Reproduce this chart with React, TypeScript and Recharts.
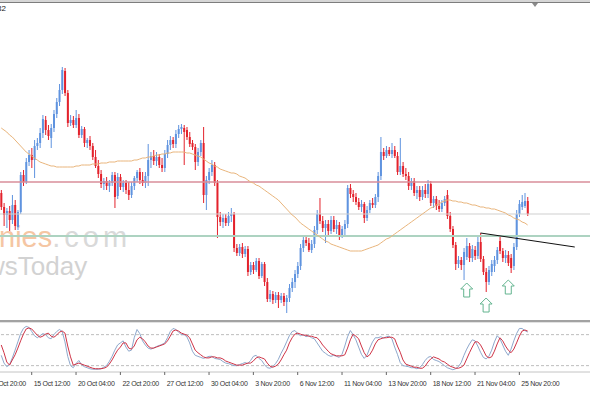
import React from "react";
import {
  ComposedChart,
  Bar,
  Line,
  XAxis,
  YAxis,
  ReferenceLine,
  ReferenceDot,
} from "recharts";

// H4 candles, 12 Oct 20:00 .. 26 Nov 08:00 (prices)
const open = [
  1.0807, 1.0793, 1.0785, 1.0789, 1.078, 1.0795, 1.0773, 1.0788, 1.0825, 1.0818,
  1.0838, 1.0845, 1.084, 1.0854, 1.0857, 1.0867, 1.088, 1.087, 1.0862, 1.0872,
  1.0886, 1.0898, 1.091, 1.0929, 1.0907, 1.0877, 1.088, 1.0875, 1.0882, 1.0865,
  1.0871, 1.0857, 1.086, 1.0854, 1.0843, 1.0834, 1.0826, 1.0816, 1.0819, 1.0814,
  1.0817, 1.0825, 1.0804, 1.0823, 1.0813, 1.0817, 1.081, 1.0805, 1.0814, 1.0822,
  1.0828, 1.082, 1.0817, 1.0824, 1.084, 1.0844, 1.0839, 1.0843, 1.0835, 1.0832,
  1.0846, 1.0855, 1.086, 1.0856, 1.0866, 1.0871, 1.0872, 1.087, 1.0863, 1.0857,
  1.0853, 1.0838, 1.0848, 1.0857, 1.0805, 1.082, 1.0828, 1.0835, 1.0817, 1.0783,
  1.0778, 1.0782, 1.0777, 1.0784, 1.0786, 1.0752, 1.0747, 1.0753, 1.0746, 1.0751,
  1.0728, 1.0735, 1.073, 1.0739, 1.0724, 1.0736, 1.0718, 1.0701, 1.0706, 1.07,
  1.0705, 1.07, 1.0704, 1.0698, 1.0702, 1.0712, 1.0718, 1.0726, 1.0734, 1.0752,
  1.076, 1.0757, 1.075, 1.0756, 1.077, 1.0786, 1.0779, 1.0772, 1.0776, 1.0769,
  1.078, 1.0771, 1.0775, 1.0765, 1.0771, 1.0776, 1.0812, 1.0806, 1.0803, 1.0798,
  1.0793, 1.0796, 1.0782, 1.079, 1.0797, 1.0795, 1.0803, 1.0824, 1.0848, 1.0844,
  1.085, 1.0846, 1.085, 1.0844, 1.0828, 1.0834, 1.0826, 1.0824, 1.0814, 1.0819,
  1.0807, 1.081, 1.0803, 1.081, 1.0806, 1.0816, 1.0797, 1.0801, 1.0794, 1.0791,
  1.0797, 1.0805, 1.0784, 1.0771, 1.0755, 1.0736, 1.074, 1.0735, 1.0743, 1.0754,
  1.0742, 1.075, 1.0744, 1.0758, 1.0741, 1.0728, 1.0718, 1.0728, 1.0734, 1.074,
  1.0759, 1.0749, 1.0742, 1.0745, 1.0742, 1.0734, 1.0753, 1.0786, 1.0793, 1.0794,
  1.0799,
];
const high = [
  1.081, 1.0797, 1.0792, 1.0794, 1.0805, 1.08, 1.079, 1.0828, 1.083, 1.0842,
  1.085, 1.0852, 1.086, 1.0862, 1.0872, 1.0885, 1.0884, 1.0875, 1.0876, 1.089,
  1.0902, 1.0916, 1.0933, 1.0932, 1.091, 1.0885, 1.0884, 1.089, 1.0886, 1.0874,
  1.0873, 1.0862, 1.0864, 1.0857, 1.085, 1.084, 1.083, 1.0822, 1.0823, 1.082,
  1.0828, 1.0828, 1.0827, 1.0826, 1.082, 1.082, 1.0818, 1.0818, 1.0824, 1.083,
  1.0832, 1.0828, 1.0828, 1.0856, 1.0848, 1.085, 1.0848, 1.0846, 1.0842, 1.085,
  1.086, 1.0864, 1.0863, 1.087, 1.0875, 1.0876, 1.0875, 1.0873, 1.0868, 1.086,
  1.0856, 1.0852, 1.086, 1.0873, 1.0824, 1.0832, 1.084, 1.0838, 1.082, 1.0788,
  1.0786, 1.0786, 1.0788, 1.0792, 1.0788, 1.0756, 1.0756, 1.0757, 1.0754, 1.0754,
  1.0738, 1.0738, 1.0742, 1.0742, 1.0738, 1.0738, 1.0722, 1.071, 1.0709, 1.0708,
  1.0708, 1.0707, 1.0707, 1.0705, 1.0716, 1.0722, 1.073, 1.0738, 1.0756, 1.0764,
  1.0764, 1.0762, 1.076, 1.0774, 1.079, 1.0802, 1.0784, 1.078, 1.078, 1.0784,
  1.0784, 1.078, 1.0778, 1.0774, 1.078, 1.0815, 1.0816, 1.081, 1.0807, 1.0802,
  1.08, 1.0798, 1.0794, 1.08, 1.0802, 1.0806, 1.0828, 1.0863, 1.0852, 1.0854,
  1.0853, 1.0857, 1.0854, 1.0848, 1.0862, 1.0838, 1.0832, 1.0828, 1.0822, 1.0822,
  1.0814, 1.0814, 1.0814, 1.0816, 1.082, 1.0819, 1.0804, 1.0804, 1.08, 1.08,
  1.0804, 1.081, 1.0788, 1.0774, 1.0758, 1.0744, 1.0743, 1.0752, 1.0762, 1.0757,
  1.0755, 1.0754, 1.0763, 1.0767, 1.0744, 1.0732, 1.0734, 1.074, 1.0744, 1.0753,
  1.0764, 1.0752, 1.075, 1.0749, 1.0746, 1.0757, 1.079, 1.08, 1.0805, 1.0807,
  1.0803,
];
const low = [
  1.079, 1.0774, 1.0772, 1.0769, 1.0776, 1.077, 1.077, 1.0786, 1.0814, 1.0816,
  1.0834, 1.0832, 1.0822, 1.085, 1.0852, 1.0862, 1.0865, 1.086, 1.0852, 1.0868,
  1.0882, 1.0894, 1.0906, 1.0904, 1.0873, 1.0874, 1.0872, 1.0872, 1.0862, 1.0862,
  1.0853, 1.0852, 1.085, 1.084, 1.0832, 1.0822, 1.0812, 1.081, 1.081, 1.0808,
  1.0814, 1.0792, 1.0801, 1.081, 1.0808, 1.0806, 1.08, 1.0802, 1.081, 1.0818,
  1.0816, 1.0814, 1.0812, 1.0814, 1.0832, 1.0835, 1.0834, 1.0832, 1.0828, 1.0828,
  1.0842, 1.085, 1.0852, 1.0852, 1.0862, 1.0866, 1.0835, 1.086, 1.0853, 1.085,
  1.083, 1.0834, 1.0844, 1.0797, 1.079, 1.0816, 1.0824, 1.0814, 1.0762, 1.0774,
  1.0772, 1.0774, 1.0774, 1.0778, 1.0748, 1.0744, 1.0744, 1.0742, 1.0743, 1.0724,
  1.0725, 1.0726, 1.0728, 1.0721, 1.0722, 1.0714, 1.0698, 1.0698, 1.0696, 1.0697,
  1.0692, 1.0697, 1.0694, 1.0687, 1.0698, 1.0708, 1.0712, 1.0722, 1.073, 1.0748,
  1.0754, 1.0748, 1.0747, 1.0752, 1.0766, 1.0776, 1.0768, 1.0757, 1.0764, 1.0766,
  1.0768, 1.0766, 1.076, 1.0762, 1.0764, 1.0772, 1.0802, 1.0798, 1.0795, 1.079,
  1.0788, 1.0777, 1.0779, 1.0787, 1.0792, 1.0792, 1.0798, 1.082, 1.084, 1.0842,
  1.0844, 1.0842, 1.0842, 1.0825, 1.0825, 1.0823, 1.082, 1.081, 1.081, 1.0804,
  1.0801, 1.0799, 1.08, 1.0802, 1.0802, 1.0794, 1.0792, 1.079, 1.0788, 1.0788,
  1.0794, 1.0781, 1.0768, 1.0752, 1.073, 1.0732, 1.073, 1.072, 1.074, 1.0738,
  1.0738, 1.074, 1.0741, 1.0738, 1.0725, 1.0708, 1.0715, 1.0724, 1.0728, 1.0736,
  1.0746, 1.0738, 1.0737, 1.0734, 1.0727, 1.073, 1.075, 1.0783, 1.079, 1.0792,
  1.0784,
];
const close = [
  1.0793, 1.0785, 1.0789, 1.078, 1.0795, 1.0774, 1.0788, 1.0825, 1.0818, 1.0838,
  1.0845, 1.084, 1.0854, 1.0857, 1.0867, 1.0881, 1.087, 1.0864, 1.0872, 1.0886,
  1.0898, 1.091, 1.093, 1.0907, 1.0877, 1.088, 1.0875, 1.0882, 1.0865, 1.0871,
  1.0857, 1.086, 1.0854, 1.0843, 1.0834, 1.0826, 1.0816, 1.0819, 1.0814, 1.0817,
  1.0825, 1.0803, 1.0823, 1.0813, 1.0817, 1.081, 1.0805, 1.0814, 1.0822, 1.0828,
  1.082, 1.0817, 1.0824, 1.084, 1.0844, 1.0839, 1.0843, 1.0835, 1.0832, 1.0846,
  1.0855, 1.086, 1.0856, 1.0866, 1.0871, 1.0873, 1.0868, 1.0863, 1.0856, 1.0853,
  1.0838, 1.0848, 1.0857, 1.0805, 1.082, 1.0828, 1.0835, 1.0817, 1.0783, 1.0778,
  1.0782, 1.0777, 1.0784, 1.0786, 1.0752, 1.0747, 1.0753, 1.0746, 1.0751, 1.0728,
  1.0735, 1.073, 1.0739, 1.0724, 1.0736, 1.0718, 1.0701, 1.0706, 1.07, 1.0705,
  1.07, 1.0704, 1.0698, 1.0702, 1.0712, 1.0718, 1.0726, 1.0734, 1.0752, 1.076,
  1.0757, 1.075, 1.0756, 1.077, 1.0786, 1.0779, 1.0772, 1.0776, 1.0769, 1.078,
  1.0771, 1.0775, 1.0765, 1.0771, 1.0776, 1.0812, 1.0806, 1.0803, 1.0798, 1.0793,
  1.0796, 1.0782, 1.079, 1.0797, 1.0795, 1.0803, 1.0824, 1.0848, 1.0844, 1.085,
  1.0846, 1.085, 1.0844, 1.0828, 1.0834, 1.0826, 1.0824, 1.0814, 1.0819, 1.0807,
  1.081, 1.0803, 1.081, 1.0806, 1.0816, 1.0797, 1.0801, 1.0794, 1.0791, 1.0797,
  1.0801, 1.0784, 1.0771, 1.0755, 1.0736, 1.074, 1.0735, 1.0748, 1.0754, 1.0742,
  1.0751, 1.0744, 1.0758, 1.0741, 1.0728, 1.0718, 1.073, 1.0736, 1.074, 1.075,
  1.0749, 1.0742, 1.0745, 1.0737, 1.0732, 1.0753, 1.0786, 1.0796, 1.0798, 1.0799,
  1.0786,
];

// moving average (orange)
const ma = [
  1.0872, 1.087, 1.0868, 1.0865, 1.0863, 1.086, 1.0857, 1.0854, 1.0851, 1.0848,
  1.0846, 1.0844, 1.0842, 1.084, 1.0838, 1.0837, 1.0836, 1.0835, 1.0834, 1.0834,
  1.0833, 1.0833, 1.0833, 1.0833, 1.0833, 1.0833, 1.0833, 1.0834, 1.0834, 1.0835,
  1.0835, 1.0835, 1.0835, 1.0836, 1.0836, 1.0836, 1.0837, 1.0837, 1.0837, 1.0838,
  1.0838, 1.0838, 1.0839, 1.0839, 1.0839, 1.0839, 1.0839, 1.0839, 1.084, 1.084,
  1.0841, 1.0842, 1.0842, 1.0843, 1.0843, 1.0844, 1.0845, 1.0845, 1.0846, 1.0846,
  1.0847, 1.0847, 1.0848, 1.0848, 1.0848, 1.0848, 1.0848, 1.0847, 1.0847, 1.0846,
  1.0845, 1.0844, 1.0843, 1.0841, 1.0839, 1.0837, 1.0836, 1.0834, 1.0833, 1.0831,
  1.083, 1.0829, 1.0828, 1.0827, 1.0827, 1.0826, 1.0824, 1.0823, 1.0822, 1.082,
  1.0818, 1.0817, 1.0815, 1.0814, 1.0812, 1.081, 1.0808, 1.0806, 1.0804, 1.0802,
  1.08, 1.0797, 1.0794, 1.0791, 1.0788, 1.0785, 1.0783, 1.078, 1.0777, 1.0775,
  1.0773, 1.0771, 1.0769, 1.0767, 1.0765, 1.0763, 1.0761, 1.0759, 1.0758, 1.0756,
  1.0755, 1.0754, 1.0753, 1.0752, 1.0751, 1.075, 1.0749, 1.0749, 1.0749, 1.0749,
  1.0749, 1.075, 1.0751, 1.0752, 1.0753, 1.0754, 1.0755, 1.0757, 1.0759, 1.0761,
  1.0762, 1.0764, 1.0766, 1.0768, 1.077, 1.0772, 1.0774, 1.0776, 1.0778, 1.078,
  1.0782, 1.0784, 1.0786, 1.0788, 1.079, 1.0792, 1.0793, 1.0795, 1.0796, 1.0798,
  1.0799, 1.08, 1.08, 1.0799, 1.0799, 1.0798, 1.0798, 1.0797, 1.0797, 1.0796,
  1.0795, 1.0795, 1.0794, 1.0793, 1.0793, 1.0792, 1.0792, 1.0791, 1.0791, 1.079,
  1.0789, 1.0788, 1.0787, 1.0785, 1.0784, 1.0782, 1.0781, 1.078, 1.0778, 1.0777,
  1.0775,
];

// stochastic oscillator: %K (main) and %D (signal)
const stochK = [
  40, 25, 18, 22, 35, 50, 66, 82, 92, 96, 94, 86, 78, 74, 78, 82, 80, 74, 72, 80,
  86, 90, 86, 66, 38, 20, 16, 24, 30, 22, 18, 16, 14, 13, 13, 13, 14, 17, 20, 28,
  38, 50, 60, 64, 68, 56, 48, 50, 74, 90, 82, 68, 60, 54, 52, 54, 57, 59, 61, 64,
  74, 86, 92, 90, 85, 80, 80, 76, 64, 48, 40, 38, 36, 34, 36, 38, 38, 34, 33, 32,
  28, 25, 24, 22, 20, 20, 22, 24, 26, 24, 30, 38, 40, 34, 30, 22, 16, 15, 18, 24,
  32, 44, 54, 66, 78, 86, 88, 82, 78, 80, 76, 78, 74, 72, 64, 56, 48, 44, 40, 38,
  40, 38, 36, 42, 58, 76, 88, 80, 70, 56, 42, 34, 40, 54, 66, 74, 74, 76, 73, 76,
  77, 72, 56, 42, 26, 20, 19, 18, 16, 16, 14, 16, 22, 30, 36, 38, 32, 30, 28, 24,
  20, 16, 14, 12, 14, 18, 26, 40, 52, 62, 70, 68, 58, 46, 36, 33, 38, 50, 66, 78,
  72, 60, 48, 40, 52, 68, 82, 92, 92, 88, 85,
];
const stochD = [
  60, 45, 27, 21, 31, 41, 54, 68, 81, 91, 93, 91, 85, 79, 75, 77, 81, 83, 77, 75,
  79, 85, 87, 83, 58, 37, 21, 23, 25, 23, 21, 19, 17, 15, 14, 14, 14, 15, 17, 23,
  31, 41, 50, 56, 64, 64, 54, 52, 58, 70, 75, 72, 66, 58, 54, 54, 56, 58, 60, 62,
  68, 77, 87, 89, 87, 83, 81, 79, 74, 62, 50, 45, 41, 37, 35, 35, 37, 37, 35, 35,
  33, 29, 27, 25, 23, 21, 21, 21, 23, 25, 25, 29, 35, 37, 35, 33, 25, 19, 17, 19,
  23, 31, 41, 50, 64, 74, 81, 83, 81, 79, 79, 77, 77, 75, 74, 68, 60, 54, 48, 43,
  41, 39, 39, 39, 41, 54, 70, 81, 77, 72, 58, 45, 37, 41, 50, 62, 70, 72, 74, 74,
  75, 75, 72, 58, 46, 31, 23, 21, 19, 17, 17, 15, 15, 19, 27, 33, 37, 35, 33, 29,
  27, 23, 19, 17, 15, 15, 17, 21, 33, 45, 56, 66, 66, 60, 50, 39, 35, 37, 48, 62,
  74, 68, 58, 50, 45, 52, 64, 77, 87, 89, 87,
];

// horizontal levels
const levelRed = 1.0818;
const levelGray = 1.0786;
const levelGreen = 1.0764;

// trendline (bar slot, price) and arrow marks
const trendPoints = [
  { slot: 178, price: 1.0767 },
  { slot: 212, price: 1.0753 },
];
const arrowMarks = [
  { slot: 173, price: 1.0717 },
  { slot: 180, price: 1.0702 },
  { slot: 188, price: 1.072 },
];

// time axis labels, one every 16 bars
const timeSlots = [0, 16, 32, 48, 64, 80, 96, 112, 128, 144, 160, 176, 192];
const timeLabels = [
  "12 Oct 20:00",
  "15 Oct 12:00",
  "20 Oct 04:00",
  "22 Oct 20:00",
  "27 Oct 12:00",
  "30 Oct 04:00",
  "3 Nov 20:00",
  "6 Nov 12:00",
  "11 Nov 04:00",
  "13 Nov 20:00",
  "18 Nov 12:00",
  "21 Nov 04:00",
  "25 Nov 20:00",
];

const LEAD = 5; // empty slots ahead of the first bar
const SLOTS = 218; // includes the empty chart shift on the right
const W = 604;
const SHIFT = -14;

const rows = Array.from({ length: SLOTS }, (_, slot) => {
  const k = slot - LEAD;
  const has = k >= 0 && k < close.length;
  const t = trendPoints.find((p) => p.slot === slot);
  return {
    slot,
    hl: has ? [low[k], high[k]] : null,
    o: has ? open[k] : null,
    c: has ? close[k] : null,
    ma: has ? ma[k] : null,
    trend: t ? t.price : null,
    k: has ? stochK[k] : null,
    d: has ? stochD[k] : null,
  };
});

const BULL = "#5f93df";
const BEAR = "#e3222c";

function Candle(props: any) {
  const { x, y, width, height, payload } = props;
  if (!payload || payload.hl == null) return null;
  const [lo, hi] = payload.hl;
  const top = Math.min(y, y + height);
  const bot = Math.max(y, y + height);
  const span = hi - lo || 1;
  const py = (p: number) => top + ((hi - p) / span) * (bot - top);
  const cx = x + width / 2;
  const up = payload.c >= payload.o;
  const col = up ? BULL : BEAR;
  const bTop = py(Math.max(payload.o, payload.c));
  const bBot = py(Math.min(payload.o, payload.c));
  return (
    <g>
      <line x1={cx} x2={cx} y1={top} y2={bot} stroke={col} strokeWidth={1} />
      <rect x={cx - 1} y={bTop} width={2} height={Math.max(1, bBot - bTop)} fill={col} />
    </g>
  );
}

function UpArrow(props: any) {
  const { cx, cy } = props;
  const d = `M${cx},${cy} L${cx + 6},${cy + 6} L${cx + 3},${cy + 6} L${cx + 3},${cy + 14} L${cx - 3},${cy + 14} L${cx - 3},${cy + 6} L${cx - 6},${cy + 6} Z`;
  return <path d={d} fill="#ffffff" stroke="#63b48f" strokeWidth={1} />;
}

function TimeTick(props: any) {
  const { x, y, payload } = props;
  const n = timeSlots.indexOf(payload.value);
  if (n < 0) return <g />;
  return (
    <g>
      <line x1={x} x2={x} y1={y} y2={y + 3} stroke="#666" />
      <text
        x={x + 2}
        y={y + 14}
        fontSize={7}
        letterSpacing={-0.3}
        fontFamily="'Liberation Sans', Arial, sans-serif"
        fill="#333"
      >
        {timeLabels[n]}
      </text>
    </g>
  );
}

export default function App() {
  return (
    <div
      style={{
        position: "fixed",
        left: 0,
        top: 0,
        width: 590,
        height: 393,
        overflow: "hidden",
        background: "#fff",
      }}
    >
      {/* watermark */}
      <div
        style={{
          position: "absolute",
          left: -1,
          top: 226,
          fontSize: 29,
          lineHeight: "23px",
          fontFamily: "'Liberation Sans', Arial, sans-serif",
          whiteSpace: "nowrap",
        }}
      >
        <span style={{ color: "#f5c6a3" }}>nies</span>
        <span style={{ color: "#d9d9d9", letterSpacing: 4 }}>.com</span>
      </div>
      <div
        style={{
          position: "absolute",
          left: -14,
          top: 255,
          fontSize: 26,
          lineHeight: "22px",
          fontFamily: "'Liberation Sans', Arial, sans-serif",
          color: "#d2d2d2",
          whiteSpace: "nowrap",
        }}
      >
        wsToday
      </div>

      <div style={{ position: "absolute", left: SHIFT, top: 0 }}>
        <ComposedChart
          width={W}
          height={322}
          data={rows}
          margin={{ top: 0, right: 0, bottom: 0, left: 0 }}
          barCategoryGap={0}
        >
          <XAxis dataKey="slot" type="category" scale="band" hide />
          <YAxis hide domain={[1.0678, 1.1]} allowDataOverflow />
          <ReferenceLine y={levelRed} stroke="#d98e9a" strokeWidth={1.5} />
          <ReferenceLine y={levelGray} stroke="#cfcfcf" strokeWidth={1} />
          <ReferenceLine y={levelGreen} stroke="#add3c1" strokeWidth={2} />
          <Bar dataKey="hl" shape={<Candle />} isAnimationActive={false} />
          <Line
            dataKey="ma"
            stroke="#e9b57c"
            strokeWidth={1}
            dot={false}
            isAnimationActive={false}
          />
          <Line
            dataKey="trend"
            stroke="#111"
            strokeWidth={1}
            dot={false}
            connectNulls
            isAnimationActive={false}
          />
          {arrowMarks.map((a) => (
            <ReferenceDot
              key={a.slot}
              x={a.slot}
              y={a.price}
              shape={<UpArrow />}
              ifOverflow="visible"
            />
          ))}
        </ComposedChart>
      </div>

      <div style={{ position: "absolute", left: SHIFT, top: 322 }}>
        <ComposedChart
          width={W}
          height={71}
          data={rows}
          margin={{ top: 0, right: 0, bottom: 0, left: 0 }}
        >
          <XAxis
            dataKey="slot"
            type="category"
            scale="band"
            interval={0}
            height={21}
            tickSize={0}
            tickMargin={0}
            tickLine={false}
            axisLine={{ stroke: "#c4c4c4" }}
            tick={<TimeTick />}
          />
          <YAxis hide domain={[7.7, 104.5]} allowDataOverflow />
          <ReferenceLine y={80} stroke="#bdbdbd" strokeDasharray="3 2" />
          <ReferenceLine y={20} stroke="#bdbdbd" strokeDasharray="3 2" />
          <Line
            dataKey="k"
            stroke="#8ea8cc"
            strokeWidth={1}
            dot={false}
            isAnimationActive={false}
          />
          <Line
            dataKey="d"
            stroke="#cf3346"
            strokeWidth={1}
            dot={false}
            isAnimationActive={false}
          />
        </ComposedChart>
      </div>

      {/* window frame: top edge, shift marker, panel divider */}
      <div style={{ position: "absolute", left: 0, top: 0, width: 590, height: 2, background: "#d6d6d6" }} />
      <div style={{ position: "absolute", left: 0, top: 2, width: 590, height: 1, background: "#7d7d7d" }} />
      <div
        style={{
          position: "absolute",
          left: 532,
          top: 3,
          width: 0,
          height: 0,
          borderLeft: "3px solid transparent",
          borderRight: "3px solid transparent",
          borderTop: "4px solid #8a8a8a",
        }}
      />
      <div
        style={{
          position: "absolute",
          left: -3,
          top: 4,
          fontSize: 8,
          lineHeight: "9px",
          fontFamily: "'Liberation Sans', Arial, sans-serif",
          color: "#222",
        }}
      >
        82
      </div>
      <div style={{ position: "absolute", left: 0, top: 320, width: 590, height: 2, background: "#a2a2a2" }} />
      <div style={{ position: "absolute", left: 0, top: 322, width: 590, height: 1, background: "#e2e2e2" }} />
    </div>
  );
}
